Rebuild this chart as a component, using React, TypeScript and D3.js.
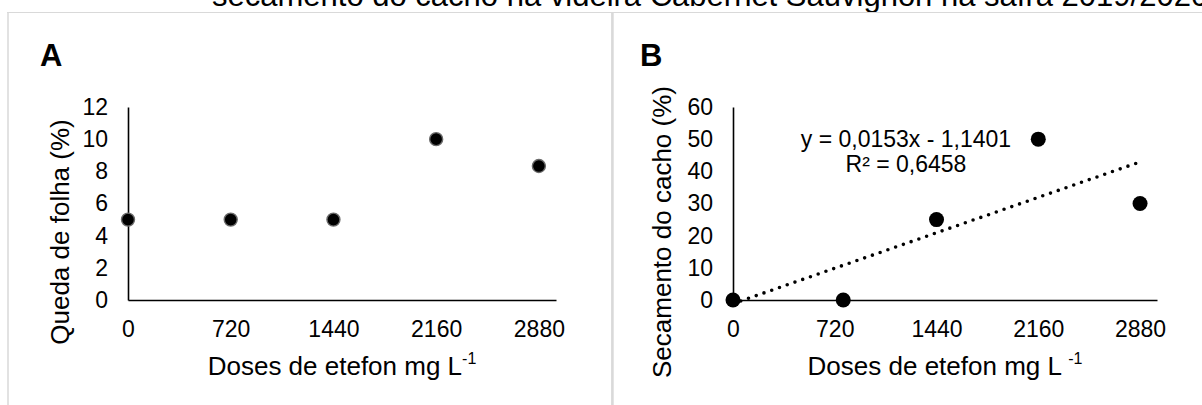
import React, { useRef, useEffect } from 'react';
import * as d3 from 'd3';

// data
const titleText = "secamento do cacho na videira Cabernet Sauvignon na safra 2019/2020";
const doseTicks = [0, 720, 1440, 2160, 2880];
const dosesA = [0, 720, 1440, 2160, 2880];
const quedaFolha = [5, 5, 5, 10, 8.33];
const dosesB = [0, 780, 1440, 2160, 2880];
const secamentoCacho = [0, 0, 25, 50, 30];
const yTicksA = [0, 2, 4, 6, 8, 10, 12];
const yTicksB = [0, 10, 20, 30, 40, 50, 60];
const trendSlope = 0.0153;
const trendIntercept = -1.1401;
const trendRange = [0, 2880];

const FONT = "'Liberation Sans', Arial, sans-serif";

function App() {
  const ref = useRef<SVGSVGElement>(null);

  useEffect(() => {
    const svg = d3.select(ref.current);
    svg.selectAll("*").remove();
    drawChart(svg);
  }, []);

  const drawChart = (svg: any) => {
    svg.attr("width", 1202).attr("height", 405);

    svg.append("rect").attr("width", 1202).attr("height", 405).attr("fill", "#fff");

    // caption, cut off at the top like in the source
    svg.append("text")
      .attr("x", 212).attr("y", 6)
      .attr("font-family", FONT).attr("font-size", 31)
      .text(titleText);

    // panel frames
    svg.append("line").attr("x1", 7).attr("x2", 1202).attr("y1", 12.5).attr("y2", 12.5)
      .attr("stroke", "#d9d9d9").attr("stroke-width", 1);
    svg.append("line").attr("x1", 8).attr("x2", 8).attr("y1", 12).attr("y2", 405)
      .attr("stroke", "#d9d9d9").attr("stroke-width", 1.5);
    svg.append("line").attr("x1", 612.4).attr("x2", 612.4).attr("y1", 12).attr("y2", 405)
      .attr("stroke", "#d9d9d9").attr("stroke-width", 2.6);

    const panel = (opts: any) => {
      const x = d3.scaleLinear().domain([0, 3000]).range([opts.left, opts.right]);
      const y = d3.scaleLinear().domain([0, opts.yMax]).range([300, 107]);

      svg.append("text")
        .attr("x", opts.letterX).attr("y", 66)
        .attr("font-family", FONT).attr("font-size", 31).attr("font-weight", "bold")
        .text(opts.letter);

      const gx = svg.append("g")
        .attr("transform", "translate(0,300)")
        .call(d3.axisBottom(x).tickValues(doseTicks).tickFormat(d3.format("d"))
          .tickSize(0).tickSizeOuter(0).tickPadding(21));
      const gy = svg.append("g")
        .attr("transform", "translate(" + opts.left + ",0)")
        .call(d3.axisLeft(y).tickValues(opts.yTicks).tickFormat(d3.format("d"))
          .tickSize(0).tickSizeOuter(0).tickPadding(20));

      [gx, gy].forEach((g) => {
        g.select(".domain").attr("stroke", "#000").attr("stroke-width", 1.6);
        g.selectAll("text")
          .attr("font-family", FONT).attr("font-size", 23).attr("fill", "#000");
      });

      // x axis title with superscript
      const xt = svg.append("text")
        .attr("x", (opts.left + opts.right) / 2).attr("y", 375)
        .attr("text-anchor", "middle")
        .attr("font-family", FONT).attr("font-size", 26);
      xt.append("tspan").text(opts.xLabel);
      xt.append("tspan").attr("font-size", 16).attr("dy", -11).text("-1");

      svg.append("text")
        .attr("transform", "translate(" + opts.yLabelX + ",232) rotate(-90)")
        .attr("text-anchor", "middle").attr("dy", "0.35em")
        .attr("font-family", FONT).attr("font-size", 26)
        .text(opts.yLabel);

      return { x, y };
    };

    // A
    const a = panel({
      left: 128, right: 556, yMax: 12, yTicks: yTicksA, letter: "A", letterX: 40,
      xLabel: "Doses de etefon mg L", yLabel: "Queda de folha (%)", yLabelX: 60,
    });
    svg.append("g").selectAll("circle")
      .data(dosesA)
      .enter()
      .append("circle")
      .attr("cx", (d: number) => a.x(d))
      .attr("cy", (d: number, i: number) => a.y(quedaFolha[i]))
      .attr("r", 6.5)
      .attr("fill", "#000")
      .attr("stroke", "#6b6b6b")
      .attr("stroke-width", 1.4);

    // B
    const b = panel({
      left: 733, right: 1157, yMax: 60, yTicks: yTicksB, letter: "B", letterX: 640,
      xLabel: "Doses de etefon mg L ", yLabel: "Secamento do cacho (%)", yLabelX: 662,
    });
    svg.append("g").selectAll("circle")
      .data(dosesB)
      .enter()
      .append("circle")
      .attr("cx", (d: number) => b.x(d))
      .attr("cy", (d: number, i: number) => b.y(secamentoCacho[i]))
      .attr("r", 7.5)
      .attr("fill", "#000");

    const trend = d3.line<number>()
      .x((d) => b.x(d))
      .y((d) => b.y(trendSlope * d + trendIntercept));
    svg.append("path")
      .attr("d", trend(trendRange))
      .attr("fill", "none")
      .attr("stroke", "#000")
      .attr("stroke-width", 3.6)
      .attr("stroke-linecap", "round")
      .attr("stroke-dasharray", "0 8.2");

    const eq = svg.append("text")
      .attr("text-anchor", "middle")
      .attr("font-family", FONT).attr("font-size", 23);
    eq.append("tspan").attr("x", 906).attr("y", 147).text("y = 0,0153x - 1,1401");
    eq.append("tspan").attr("x", 906).attr("y", 172).text("R² = 0,6458");
  };

  return (
    <svg ref={ref} width={1202} height={405} style={{ position: "absolute", left: 0, top: 0 }}>
    </svg>
  );
}

export default App;
